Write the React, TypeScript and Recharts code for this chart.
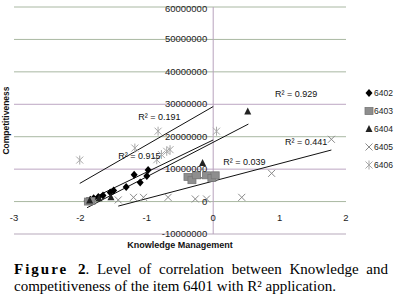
import React from 'react';
import { ScatterChart, Scatter, XAxis, YAxis, CartesianGrid, ReferenceLine, ReferenceDot, Legend, Label } from 'recharts';

const seriesNames = ['6402', '6403', '6404', '6405', '6406'];

const xTicks = [-3, -2, -1, 0, 1, 2];
const yTicks = [-10000000, 0, 10000000, 20000000, 30000000, 40000000, 50000000, 60000000];

// points
const s6402 = [
  { x: -0.98, y: 9700000 }, { x: -1.0, y: 7900000 }, { x: -1.19, y: 8300000 },
  { x: -1.1, y: 5900000 }, { x: -1.31, y: 4500000 }, { x: -1.5, y: 3400000 },
  { x: -1.55, y: 2800000 }, { x: -1.66, y: 1900000 }, { x: -1.73, y: 1400000 },
  { x: -1.8, y: 1000000 }, { x: -1.85, y: 600000 }, { x: -1.9, y: 200000 },
];
const s6403 = [
  { x: -0.38, y: 7600000 }, { x: -0.32, y: 6600000 }, { x: -0.25, y: 8100000 },
  { x: -0.1, y: 8100000 }, { x: -0.02, y: 7300000 }, { x: 0.03, y: 8100000 },
  { x: -1.88, y: 0 }, { x: -1.84, y: 200000 },
];
const s6404 = [
  { x: -1.86, y: 300000 }, { x: -1.72, y: 1000000 }, { x: -1.54, y: 1300000 },
  { x: -0.16, y: 11900000 }, { x: 0.52, y: 27800000 },
];
const s6405 = [
  { x: -1.43, y: 500000 }, { x: -1.2, y: 1300000 }, { x: -1.05, y: 1300000 },
  { x: -0.68, y: 1300000 }, { x: -0.27, y: 800000 }, { x: -0.1, y: 800000 },
  { x: 0.43, y: 1300000 }, { x: 0.88, y: 8700000 }, { x: 1.78, y: 19200000 },
];
const s6406 = [
  { x: -2.01, y: 12800000 }, { x: -1.18, y: 16500000 }, { x: -0.83, y: 21700000 },
  { x: -0.85, y: 12900000 }, { x: -0.78, y: 14500000 }, { x: -0.7, y: 15500000 },
  { x: -0.65, y: 16000000 }, { x: 0.05, y: 21700000 },
];

// trendline end points
const trend6402 = [{ x: -1.92, y: 0 }, { x: 0, y: 19000000 }];
const trend6403 = [{ x: -0.33, y: 7200000 }, { x: -0.17, y: 7300000 }];
const trend6404 = [{ x: -1.9, y: -1900000 }, { x: 0.53, y: 23900000 }];
const trend6405 = [{ x: -1.43, y: -1400000 }, { x: 1.78, y: 15900000 }];
const trend6406 = [{ x: -2.01, y: 5600000 }, { x: 0, y: 29300000 }];

const r2Labels = [
  { text: 'R² = 0.191', x: -1.13, y: 26100000 },
  { text: 'R² = 0.929', x: 0.93, y: 33200000 },
  { text: 'R² = 0.915', x: -1.43, y: 14100000 },
  { text: 'R² = 0.039', x: 0.15, y: 12200000 },
  { text: 'R² = 0.441', x: 1.08, y: 18400000 },
];

// bottom to top
const gridColors = ['#b7a9bb', '#a9b8a2', '#bca6c2', '#a9b8a2', '#bca6c2', '#a9b8a2', '#a9b8a2', '#a9b8a2'];

const W = 397;
const H = 252;
const M = { top: 7, left: 13, right: 18, bottom: 17 };
const LEGEND_W = 33;
const PLOT_L = M.left + 1;
const PLOT_W = W - PLOT_L - M.right - LEGEND_W;
const PLOT_H = H - M.top - M.bottom - 1;
const X_MIN = -3, X_MAX = 2, Y_MIN = -10000000, Y_MAX = 60000000;
const zeroX = PLOT_L + ((0 - X_MIN) / (X_MAX - X_MIN)) * PLOT_W;
const zeroY = M.top + ((Y_MAX - 0) / (Y_MAX - Y_MIN)) * PLOT_H;

const font = '"Liberation Sans", Arial, sans-serif';

const marker = (name: string, cx: number, cy: number) => {
  switch (name) {
    case '6402':
      return <path d={`M${cx},${cy - 4}L${cx + 3.5},${cy}L${cx},${cy + 4}L${cx - 3.5},${cy}Z`} fill="#000" />;
    case '6403':
      return <rect x={cx - 4} y={cy - 3.5} width={8} height={7} fill="#8e8e8e" stroke="#777" strokeWidth={0.8} />;
    case '6404':
      return <path d={`M${cx},${cy - 4}L${cx + 3.5},${cy + 3}L${cx - 3.5},${cy + 3}Z`} fill="#222" />;
    case '6405':
      return (
        <g stroke="#8a8a8a" strokeWidth={1}>
          <line x1={cx - 3.5} y1={cy - 3.5} x2={cx + 3.5} y2={cy + 3.5} />
          <line x1={cx - 3.5} y1={cy + 3.5} x2={cx + 3.5} y2={cy - 3.5} />
        </g>
      );
    default:
      return (
        <g stroke="#a8a8a8" strokeWidth={1}>
          <line x1={cx - 3.5} y1={cy - 3.5} x2={cx + 3.5} y2={cy + 3.5} />
          <line x1={cx - 3.5} y1={cy + 3.5} x2={cx + 3.5} y2={cy - 3.5} />
          <line x1={cx} y1={cy - 4.5} x2={cx} y2={cy + 4.5} />
        </g>
      );
  }
};

const shapeFor = (name: string) => (p: any) => marker(name, p.cx, p.cy);

const renderLegend = () => (
  <div style={{ fontFamily: font, fontSize: 8.5, color: '#222' }}>
    {seriesNames.map((n) => (
      <div key={n} style={{ display: 'flex', alignItems: 'center', height: 18 }}>
        <svg width={10} height={10} style={{ overflow: 'visible' }}>{marker(n, 5, 5)}</svg>
        <span>{n}</span>
      </div>
    ))}
  </div>
);

const YTick = (p: any) => (
  <text x={zeroX - 6} y={p.y + 3} textAnchor="end" fontSize={9.5} fontFamily={font} fill="#222">
    {p.payload.value}
  </text>
);

const XTick = (p: any) => (
  <text x={p.x} y={zeroY + 19} textAnchor="middle" fontSize={9.5} fontFamily={font} fill="#222">
    {p.payload.value}
  </text>
);

const gridLine = (p: any) => (
  <line
    key={`h-${p.index}`}
    x1={p.x1}
    y1={p.y1}
    x2={p.x2}
    y2={p.y2}
    stroke={gridColors[p.index ?? 0] || '#b0b0b0'}
    strokeWidth={1}
  />
);

const trends = [trend6402, trend6403, trend6404, trend6405, trend6406];

export default function App() {
  return (
    <div style={{ position: 'absolute', left: 0, top: 0, width: W, height: 304, background: '#fff' }}>
      <ScatterChart width={W} height={H} margin={M}>
        <CartesianGrid vertical={false} horizontal={gridLine} />
        <XAxis
          type="number"
          dataKey="x"
          domain={[X_MIN, X_MAX]}
          ticks={xTicks}
          height={1}
          axisLine={false}
          tickLine={false}
          tick={XTick}
          allowDataOverflow
        >
          <Label
            content={() => (
              <text x={PLOT_L + PLOT_W / 2} y={zeroY + 46} textAnchor="middle" fontSize={9} fontWeight="bold" fontFamily={font} fill="#111">
                Knowledge Management
              </text>
            )}
          />
        </XAxis>
        <YAxis
          type="number"
          dataKey="y"
          domain={[Y_MIN, Y_MAX]}
          ticks={yTicks}
          width={1}
          axisLine={false}
          tickLine={false}
          tick={YTick}
          allowDataOverflow
        >
          <Label
            content={() => (
              <text
                x={PLOT_L - 5}
                y={M.top + PLOT_H / 2}
                transform={`rotate(-90 ${PLOT_L - 5} ${M.top + PLOT_H / 2})`}
                textAnchor="middle"
                fontSize={8.5}
                fontWeight="bold"
                fontFamily={font}
                fill="#111"
              >
                Competitiveness
              </text>
            )}
          />
        </YAxis>
        <ReferenceLine x={0} stroke="#b9a3bd" strokeWidth={1} />
        {trends.map((t, i) => (
          <ReferenceLine key={`t-${i}`} segment={t} stroke="#111" strokeWidth={1} ifOverflow="visible" />
        ))}
        <Scatter name="6402" data={s6402} shape={shapeFor('6402')} isAnimationActive={false} />
        <Scatter name="6403" data={s6403} shape={shapeFor('6403')} isAnimationActive={false} />
        <Scatter name="6404" data={s6404} shape={shapeFor('6404')} isAnimationActive={false} />
        <Scatter name="6405" data={s6405} shape={shapeFor('6405')} isAnimationActive={false} />
        <Scatter name="6406" data={s6406} shape={shapeFor('6406')} isAnimationActive={false} />
        {r2Labels.map((l) => (
          <ReferenceDot
            key={l.text}
            x={l.x}
            y={l.y}
            r={0}
            ifOverflow="visible"
            shape={(p: any) => (
              <text x={p.cx} y={p.cy + 3} fontSize={9} fontFamily={font} fill="#111">
                {l.text}
              </text>
            )}
          />
        ))}
        <Legend
          layout="vertical"
          align="right"
          verticalAlign="middle"
          content={renderLegend}
          wrapperStyle={{ left: 364, top: 84, width: LEGEND_W }}
        />
      </ScatterChart>
      <div
        style={{
          position: 'absolute',
          left: 14,
          top: 261,
          width: 374,
          fontFamily: '"Liberation Serif", "Times New Roman", serif',
          fontSize: 15,
          lineHeight: '17px',
          textAlign: 'justify',
          color: '#000',
        }}
      >
        <b style={{ letterSpacing: 2, marginRight: -2 }}>Figure 2</b>. Level of correlation between Knowledge and competitiveness of the item 6401 with R² application.
      </div>
    </div>
  );
}
